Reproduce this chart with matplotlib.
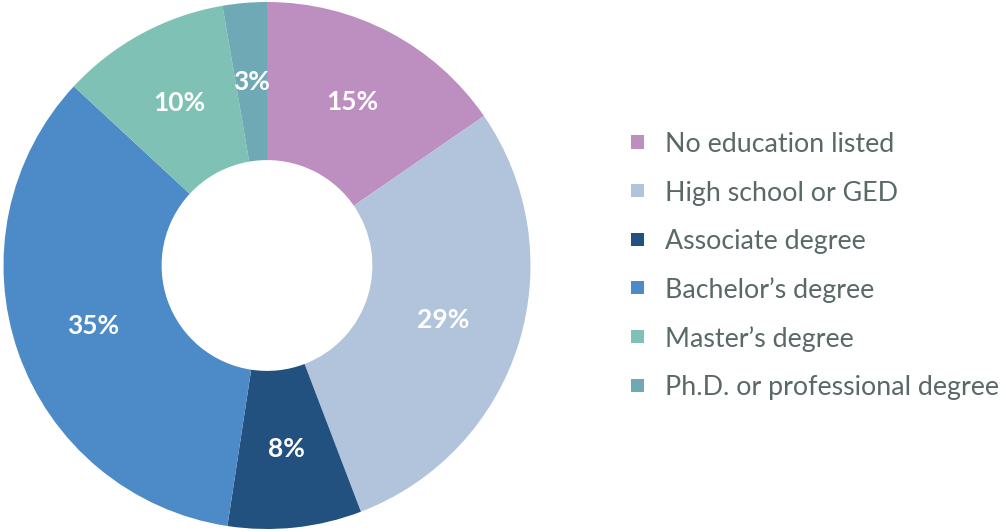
import matplotlib
matplotlib.use("Agg")
import matplotlib.pyplot as plt
from matplotlib.patches import Rectangle

categories = ["No education listed", "High school or GED", "Associate degree",
              "Bachelor\u2019s degree", "Master\u2019s degree", "Ph.D. or professional degree"]
values = [15.4, 28.8, 8.2, 34.5, 10.4, 2.7]
pct_labels = ["15%", "29%", "8%", "35%", "10%", "3%"]
colors = ["#BD8FC1", "#B1C4DC", "#22507F", "#4D8AC8", "#80C1B5", "#6FA9B5"]

W, H = 1007, 531
fig = plt.figure(figsize=(W / 100, H / 100), dpi=100)
plt.rcParams['font.family'] = ['Lato', 'DejaVu Sans']

R = 263.5
cx, cy = 267, 265.5
ax = fig.add_axes([(cx - R) / W, (H - cy - R) / H, 2 * R / W, 2 * R / H])
wedges, texts = ax.pie(
    values, colors=colors, startangle=90, counterclock=False, radius=1,
    wedgeprops=dict(width=0.6, edgecolor="none", linewidth=0),
    labels=pct_labels, labeldistance=0.70,
    textprops=dict(color="white", fontsize=19, fontweight="bold"))
for t in texts:
    t.set_ha("center")
    t.set_va("center")
ax.set_xlim(-1, 1)
ax.set_ylim(-1, 1)
ax.set_aspect("equal")
ax.axis("off")

text_color = "#5A6868"
y0 = 142
dy = 48.6
sq = 13
for i, (lab, col) in enumerate(zip(categories, colors)):
    y = y0 + i * dy
    fig.patches.append(Rectangle((631 / W, (H - y - sq / 2) / H), sq / W, sq / H,
                                 transform=fig.transFigure, facecolor=col, edgecolor="none"))
    fig.text(665 / W, (H - y) / H, lab, color=text_color, fontsize=19.3,
             va="center_baseline", ha="left")

fig.savefig("out.png", dpi=100)
